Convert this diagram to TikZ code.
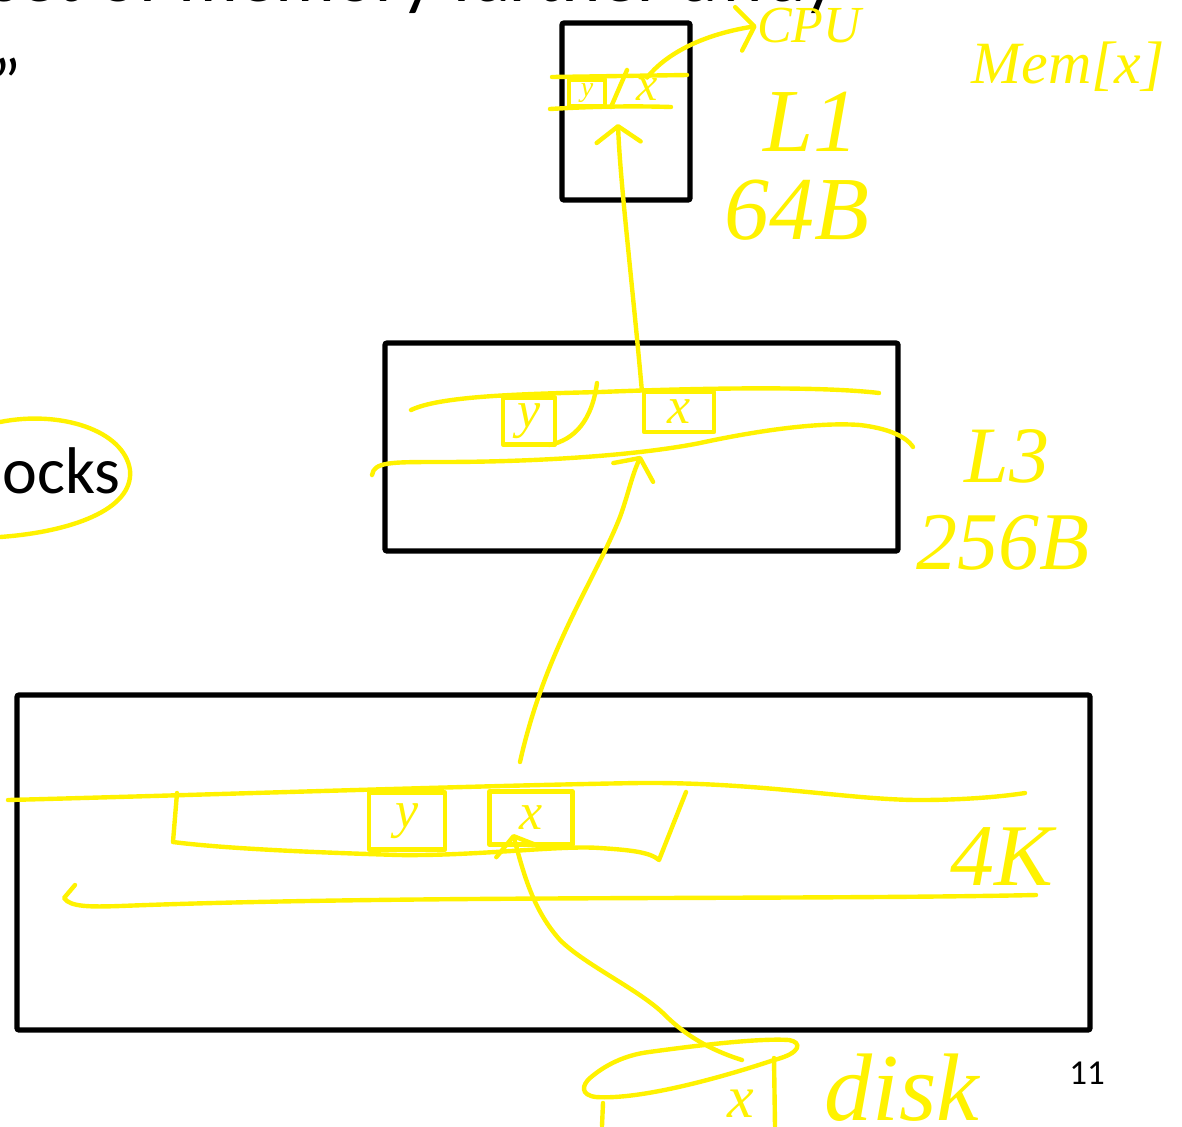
\documentclass[tikz,border=0pt]{standalone}
\usepackage{fontspec}
\setmainfont{Carlito}
\newfontfamily\inkfont{Liberation Serif}
\usepackage{tikz}
\usetikzlibrary{arrows.meta}

\begin{document}
\begin{tikzpicture}[
  x=0.5pt, y=-0.5pt,
  slide/.style={inner sep=0pt, font=\fontsize{33pt}{40pt}\selectfont},
  cachebox/.style={draw, line width=2.6pt, rounded corners=1pt, inner sep=0pt},
  ink/.style={draw=yellow, line width=2.2pt, line cap=round, line join=round},
  scrawl/.style={text=yellow, inner sep=0pt, font=\inkfont\itshape\fontsize{#1}{#1}\selectfont},
  scrawl/.default=30pt,
  cell/.style={ink, inner sep=0pt, text=yellow, font=\inkfont\itshape\fontsize{26pt}{26pt}\selectfont},
  >={Straight Barb[length=8pt, width=22pt, round]}
]
  \useasboundingbox (0,0) rectangle (1182,1126);
  \clip (0,0) rectangle (1182,1126);

  \node[slide, font=\fontsize{37.5pt}{45pt}\selectfont, anchor=base east] (heading) at (838,1) {set of memory farther away};
  \node[slide, anchor=base east] (quote) at (22,104) {”};
  \node[slide, anchor=base east] (ocks) at (121,493) {ocks};
  \node[inner sep=0pt, font=\fontsize{17.5pt}{20pt}\selectfont] (pageno) at (1087,1073) {11};

  \node[cachebox, minimum width=64pt, minimum height=88.5pt] (l1) at (626,111.5) {};
  \node[cachebox, minimum width=256.5pt, minimum height=104pt] (l3) at (641.5,447) {};
  \node[cachebox, minimum width=536.5pt, minimum height=167.5pt] (mem) at (553.5,862.5) {};

  \node[cell, minimum width=18pt, minimum height=13.5pt, font=\inkfont\itshape\fontsize{14pt}{14pt}\selectfont] (l1y) at (587,93) {y};
  \node[scrawl=24pt] (l1x) at (647,89) {x};
  \node[cell, minimum width=26pt, minimum height=23.5pt] (l3y) at (529,421) {y};
  \node[cell, minimum width=35pt, minimum height=20pt] (l3x) at (679,412) {x};
  \node[cell, minimum width=38pt, minimum height=28.5pt] (memy) at (407,821) {y};
  \node[cell, minimum width=41.5pt, minimum height=26.5pt] (memx) at (531,818) {x};
  \node[scrawl=30pt] (diskx) at (741,1104) {x};

  \node[scrawl=26pt] (cpu) at (809,26) {CPU};
  \node[scrawl=30pt] (memlbl) at (1068,67) {Mem[x]};
  \node[scrawl=45pt] (l1lbl) at (811,122) {L1};
  \node[scrawl=45pt] (l1size) at (797,210) {64B};
  \node[scrawl=40pt] (l3lbl) at (1007,456) {L3};
  \node[scrawl=41pt] (l3size) at (1003,543) {256B};
  \node[scrawl=44pt] (memsize) at (1002,857) {4K};
  \node[scrawl=48pt, anchor=base west] (disklbl) at (824,1120) {disk};

  \coordinate (memout) at (520,762);
  \coordinate (l3in) at (641,456);
  \coordinate (l1in) at (618,124);
  \coordinate (memin) at (513,834);
  \coordinate (diskout) at (742,1060);

  \draw[ink] (0,422) .. controls (60,410) and (124,430) .. (130,470) .. controls (134,510) and (70,532) .. (0,537);

  \draw[ink] (552,77) -- (687,75);
  \draw[ink] (550,109) .. controls (600,106) and (640,106) .. (671,107);
  \draw[ink] (611,107) -- (627,70);

  \draw[ink] (411,410) .. controls (440,396) and (520,394) .. (600,392) .. controls (700,388) and (820,386) .. (879,393);
  \draw[ink] (372,475) .. controls (374,462) and (390,462) .. (440,462) .. controls (540,462) and (640,455) .. (700,443)
    .. controls (760,430) and (820,422) .. (860,425) .. controls (885,428) and (905,435) .. (913,447);
  \draw[ink] (549,445) .. controls (575,440) and (592,420) .. (597,383);

  \draw[ink] (8,800) .. controls (200,795) and (500,785) .. (640,783) .. controls (760,782) and (850,800) .. (920,800)
    .. controls (960,800) and (1000,797) .. (1025,793);
  \draw[ink] (177,793) -- (173,842) .. controls (220,848) and (300,852) .. (399,855) .. controls (480,856) and (560,845) .. (600,848)
    .. controls (630,850) and (650,852) .. (659,860) -- (686,792);
  \draw[ink] (75,885) -- (64,898) .. controls (70,907) and (90,907) .. (120,906) .. controls (400,895) and (800,900) .. (1036,895);

  \draw[ink] (649,1052) .. controls (700,1045) and (760,1038) .. (789,1040) .. controls (802,1042) and (802,1053) .. (774,1060)
    .. controls (720,1078) and (640,1100) .. (596,1097) .. controls (580,1095) and (582,1085) .. (590,1078)
    .. controls (605,1065) and (625,1055) .. (649,1052);
  \draw[ink] (603,1103) -- (602,1126);
  \draw[ink] (774,1058) -- (775,1126);

  \draw[ink, ->] (memout) .. controls (545,650) and (595,580) .. (620,517) .. controls (628,495) and (632,475) .. (l3in);
  \draw[ink, ->] (l3x.north west) .. controls (632,280) and (620,180) .. (l1in);
  \draw[ink, ->] (l1x.north) .. controls (665,55) and (700,35) .. (cpu.west);
  \draw[ink, ->] (diskout) .. controls (710,1050) and (685,1035) .. (665,1015) .. controls (640,990) and (585,965) .. (560,940)
    .. controls (535,912) and (525,880) .. (memin);
\end{tikzpicture}
\end{document}
